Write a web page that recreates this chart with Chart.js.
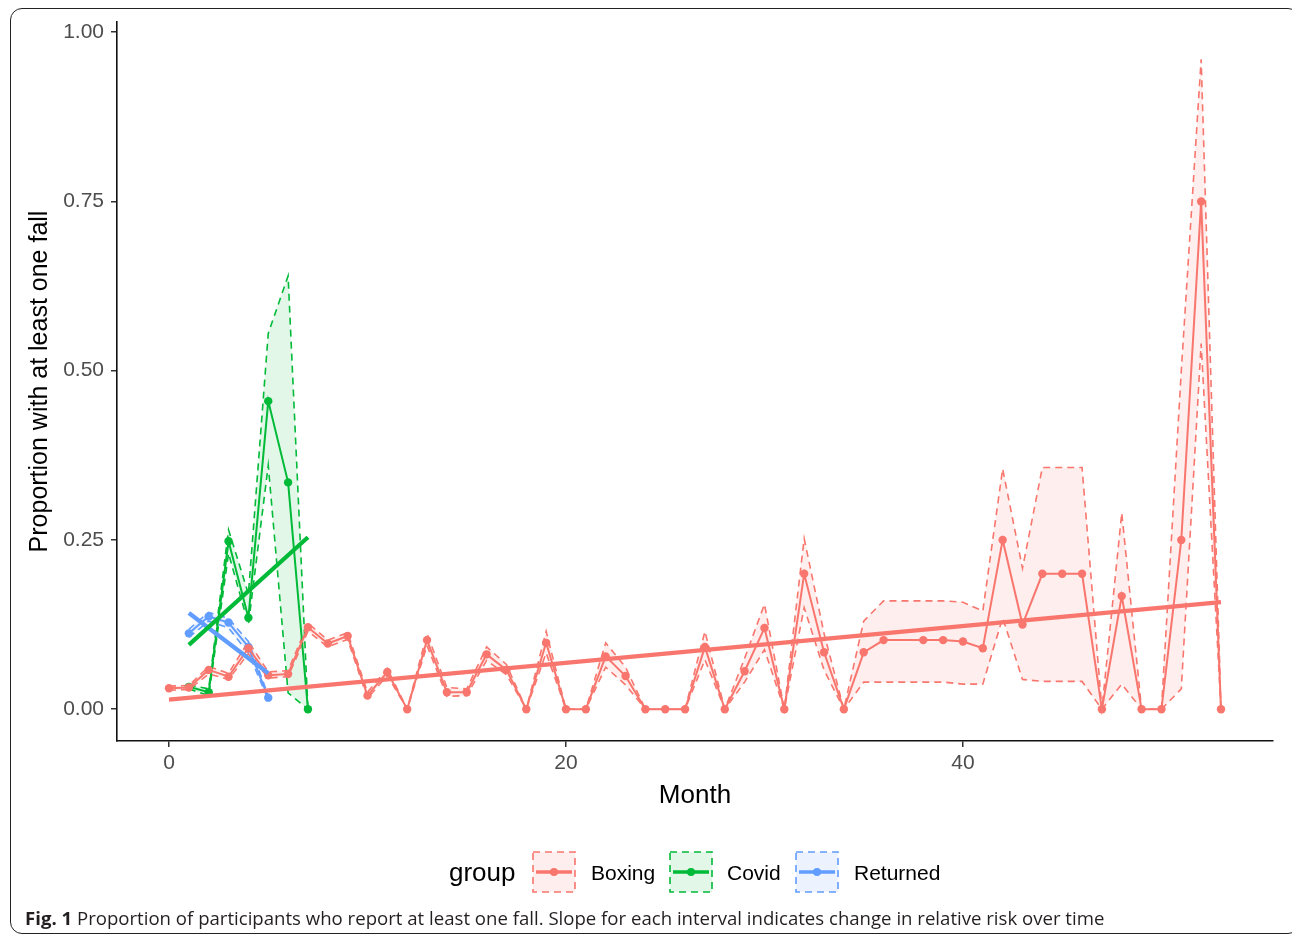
<!DOCTYPE html>
<html>
<head>
<meta charset="utf-8">
<script src="https://cdn.jsdelivr.net/npm/chart.js@4.4.1/dist/chart.umd.min.js"></script>
<style>
  html, body { margin: 0; padding: 0; background: #fff; }
  #wrap { position: relative; width: 1292px; height: 938px; overflow: hidden; }
  #frame {
    position: absolute; left: 10px; top: 8px; width: 1290px; height: 926px;
    border: 1.5px solid #222; border-radius: 12px; box-sizing: border-box;
  }
  #chart { position: absolute; left: 0; top: 0; }
  #caption {
    position: absolute; left: 25px; top: 905px;
    font-family: "Open Sans", sans-serif; font-size: 18.6px; color: #231f20;
    white-space: nowrap;
  }
  #caption b { font-weight: 700; }
</style>
</head>
<body>
<div id="wrap">
  <div id="frame"></div>
  <canvas id="chart" width="1292" height="938"></canvas>
  <div id="caption"><b>Fig. 1</b> Proportion of participants who report at least one fall. Slope for each interval indicates change in relative risk over time</div>
</div>
<script>
// Дані
const groups = ['Boxing', 'Covid', 'Returned'];
const groupColors = ['#F8766D', '#00BA38', '#619CFF'];
const ribbonColors = ['rgba(248,118,109,0.12)', 'rgba(0,186,56,0.11)', 'rgba(97,156,255,0.12)'];

const boxingMonths = [0, 1, 2, 3, 4, 5, 6, 7, 8, 9, 10, 11, 12, 13, 14, 15, 16, 17, 18, 19, 20,
  21, 22, 23, 24, 25, 26, 27, 28, 29, 30, 31, 32, 33, 34, 35, 36, 38, 39, 40, 41, 42, 43, 44,
  45, 46, 47, 48, 49, 50, 51, 52, 53];
const boxingValues = [0.031, 0.032, 0.058, 0.048, 0.090, 0.050, 0.052, 0.121, 0.097, 0.108, 0.020,
  0.055, 0, 0.102, 0.025, 0.025, 0.081, 0.058, 0, 0.098, 0, 0, 0.078, 0.049, 0, 0, 0, 0.092, 0,
  0.056, 0.120, 0, 0.200, 0.084, 0, 0.084, 0.102, 0.102, 0.102, 0.100, 0.090, 0.250, 0.125,
  0.200, 0.200, 0.200, 0, 0.167, 0, 0, 0.250, 0.750, 0];
const boxingUpper = [0.034, 0.035, 0.063, 0.053, 0.100, 0.055, 0.057, 0.127, 0.102, 0.113, 0.025,
  0.060, 0, 0.112, 0.032, 0.030, 0.092, 0.066, 0, 0.115, 0, 0, 0.098, 0.062, 0, 0, 0, 0.115, 0,
  0.075, 0.155, 0, 0.252, 0.112, 0, 0.130, 0.160, 0.160, 0.160, 0.158, 0.145, 0.355, 0.208,
  0.357, 0.357, 0.357, 0, 0.290, 0, 0, 0.500, 0.960, 0];
const boxingLower = [0.028, 0.029, 0.052, 0.044, 0.082, 0.046, 0.048, 0.115, 0.092, 0.103, 0.016,
  0.050, 0, 0.094, 0.019, 0.020, 0.072, 0.051, 0, 0.083, 0, 0, 0.062, 0.036, 0, 0, 0, 0.073, 0,
  0.040, 0.088, 0, 0.150, 0.058, 0, 0.040, 0.040, 0.040, 0.040, 0.037, 0.037, 0.135, 0.044,
  0.041, 0.041, 0.041, 0, 0.037, 0, 0, 0.030, 0.540, 0];

const covidMonths = [1, 2, 3, 4, 5, 6, 7];
const covidValues = [0.033, 0.025, 0.248, 0.135, 0.455, 0.335, 0];
const covidUpper = [0.036, 0.030, 0.265, 0.170, 0.555, 0.640, 0];
const covidLower = [0.030, 0.020, 0.230, 0.125, 0.360, 0.024, 0];

const returnedMonths = [1, 2, 3, 4, 5];
const returnedValues = [0.112, 0.137, 0.128, 0.092, 0.017];
const returnedUpper = [0.118, 0.143, 0.134, 0.100, 0.020];
const returnedLower = [0.106, 0.130, 0.120, 0.083, 0.014];

// Лінії тренду (нахил для кожного інтервалу)
const boxingTrendMonths = [0, 53];
const boxingTrend = [0.014, 0.158];
const covidTrendMonths = [1, 7];
const covidTrend = [0.095, 0.254];
const returnedTrendMonths = [1, 5];
const returnedTrend = [0.142, 0.053];

const xTicks = [0, 20, 40];
const yTicks = [0, 0.25, 0.5, 0.75, 1];

const axisFont = '"Liberation Sans", Arial, sans-serif';

function toPoints(xs, ys) {
    return xs.map((x, i) => ({ x: x, y: ys[i] }));
}

// Формуємо набори даних для кожної групи
const series = [
    { months: boxingMonths, values: boxingValues, upper: boxingUpper, lower: boxingLower,
      trendMonths: boxingTrendMonths, trend: boxingTrend },
    { months: covidMonths, values: covidValues, upper: covidUpper, lower: covidLower,
      trendMonths: covidTrendMonths, trend: covidTrend },
    { months: returnedMonths, values: returnedValues, upper: returnedUpper, lower: returnedLower,
      trendMonths: returnedTrendMonths, trend: returnedTrend }
];

const datasets = [];
series.forEach((s, g) => {
    const color = groupColors[g];
    datasets.push({
        label: groups[g] + ' lower',
        data: toPoints(s.months, s.lower),
        borderColor: color, borderWidth: 1.6, borderDash: [7, 5],
        pointRadius: 0, fill: false, tension: 0, order: 3
    });
    datasets.push({
        label: groups[g] + ' upper',
        data: toPoints(s.months, s.upper),
        borderColor: color, borderWidth: 1.6, borderDash: [7, 5],
        backgroundColor: ribbonColors[g],
        pointRadius: 0, fill: '-1', tension: 0, order: 3
    });
    datasets.push({
        label: groups[g],
        data: toPoints(s.months, s.values),
        borderColor: color, backgroundColor: color, borderWidth: 2,
        pointRadius: 4.2, pointBorderWidth: 0, pointBackgroundColor: color,
        fill: false, tension: 0, order: 2
    });
    datasets.push({
        label: groups[g] + ' trend',
        data: toPoints(s.trendMonths, s.trend),
        borderColor: color, borderWidth: 4.2, borderCapStyle: 'butt',
        pointRadius: 0, fill: false, tension: 0, order: 1
    });
});

// Легенда в стилі ggplot
const legendPlugin = {
    id: 'ggLegend',
    afterDraw(chart) {
        const ctx = chart.ctx;
        ctx.save();
        ctx.textBaseline = 'middle';
        ctx.fillStyle = '#000';
        ctx.font = '26px ' + axisFont;
        ctx.fillText('group', 449, 874);
        const keyX = [533, 670, 796];
        const labelX = [591, 727, 854];
        ctx.font = '21px ' + axisFont;
        groups.forEach((name, g) => {
            const x = keyX[g], y = 852, w = 42, h = 40;
            ctx.fillStyle = ribbonColors[g];
            ctx.fillRect(x, y, w, h);
            ctx.setLineDash([7, 5]);
            ctx.lineWidth = 1.6;
            ctx.strokeStyle = groupColors[g];
            ctx.strokeRect(x, y, w, h);
            ctx.setLineDash([]);
            ctx.lineWidth = 3.5;
            ctx.beginPath();
            ctx.moveTo(x + 3, y + h / 2);
            ctx.lineTo(x + w - 3, y + h / 2);
            ctx.stroke();
            ctx.fillStyle = groupColors[g];
            ctx.beginPath();
            ctx.arc(x + w / 2, y + h / 2, 4, 0, Math.PI * 2);
            ctx.fill();
            ctx.fillStyle = '#000';
            ctx.fillText(name, labelX[g], 874);
        });
        ctx.restore();
    }
};

document.addEventListener('DOMContentLoaded', () => {
    new Chart(document.getElementById('chart'), {
        type: 'line',
        data: { datasets: datasets },
        options: {
            responsive: false,
            animation: false,
            layout: { padding: { left: 0, right: 19, top: 22, bottom: 97 } },
            plugins: { legend: { display: false }, tooltip: { enabled: false } },
            scales: {
                x: {
                    type: 'linear',
                    min: -2.62, max: 55.62,
                    afterBuildTicks: (scale) => { scale.ticks = xTicks.map(v => ({ value: v })); },
                    afterFit: (scale) => { scale.height = 100; },
                    grid: { drawOnChartArea: false, drawTicks: true, tickLength: 6, color: '#333', lineWidth: 1.5 },
                    border: { display: true, color: '#111', width: 1.6 },
                    ticks: { color: '#4D4D4D', font: { size: 21, family: axisFont }, padding: 4, maxRotation: 0 },
                    title: { display: true, text: 'Month', color: '#000',
                             font: { size: 26, family: axisFont },
                             padding: { top: 0, bottom: 30 } }
                },
                y: {
                    type: 'linear',
                    min: -0.047, max: 1.015,
                    afterBuildTicks: (scale) => { scale.ticks = yTicks.map(v => ({ value: v })); },
                    afterFit: (scale) => { scale.width = 117; },
                    grid: { drawOnChartArea: false, drawTicks: true, tickLength: 6, color: '#333', lineWidth: 1.5 },
                    border: { display: true, color: '#111', width: 1.6 },
                    ticks: { color: '#4D4D4D', font: { size: 21, family: axisFont }, padding: 7,
                             callback: (v) => Number(v).toFixed(2) },
                    title: { display: true, text: 'Proportion with at least one fall', color: '#000',
                             font: { size: 25, family: axisFont },
                             padding: { top: 25, bottom: 0 } }
                }
            }
        },
        plugins: [legendPlugin]
    });
});
</script>
</body>
</html>
